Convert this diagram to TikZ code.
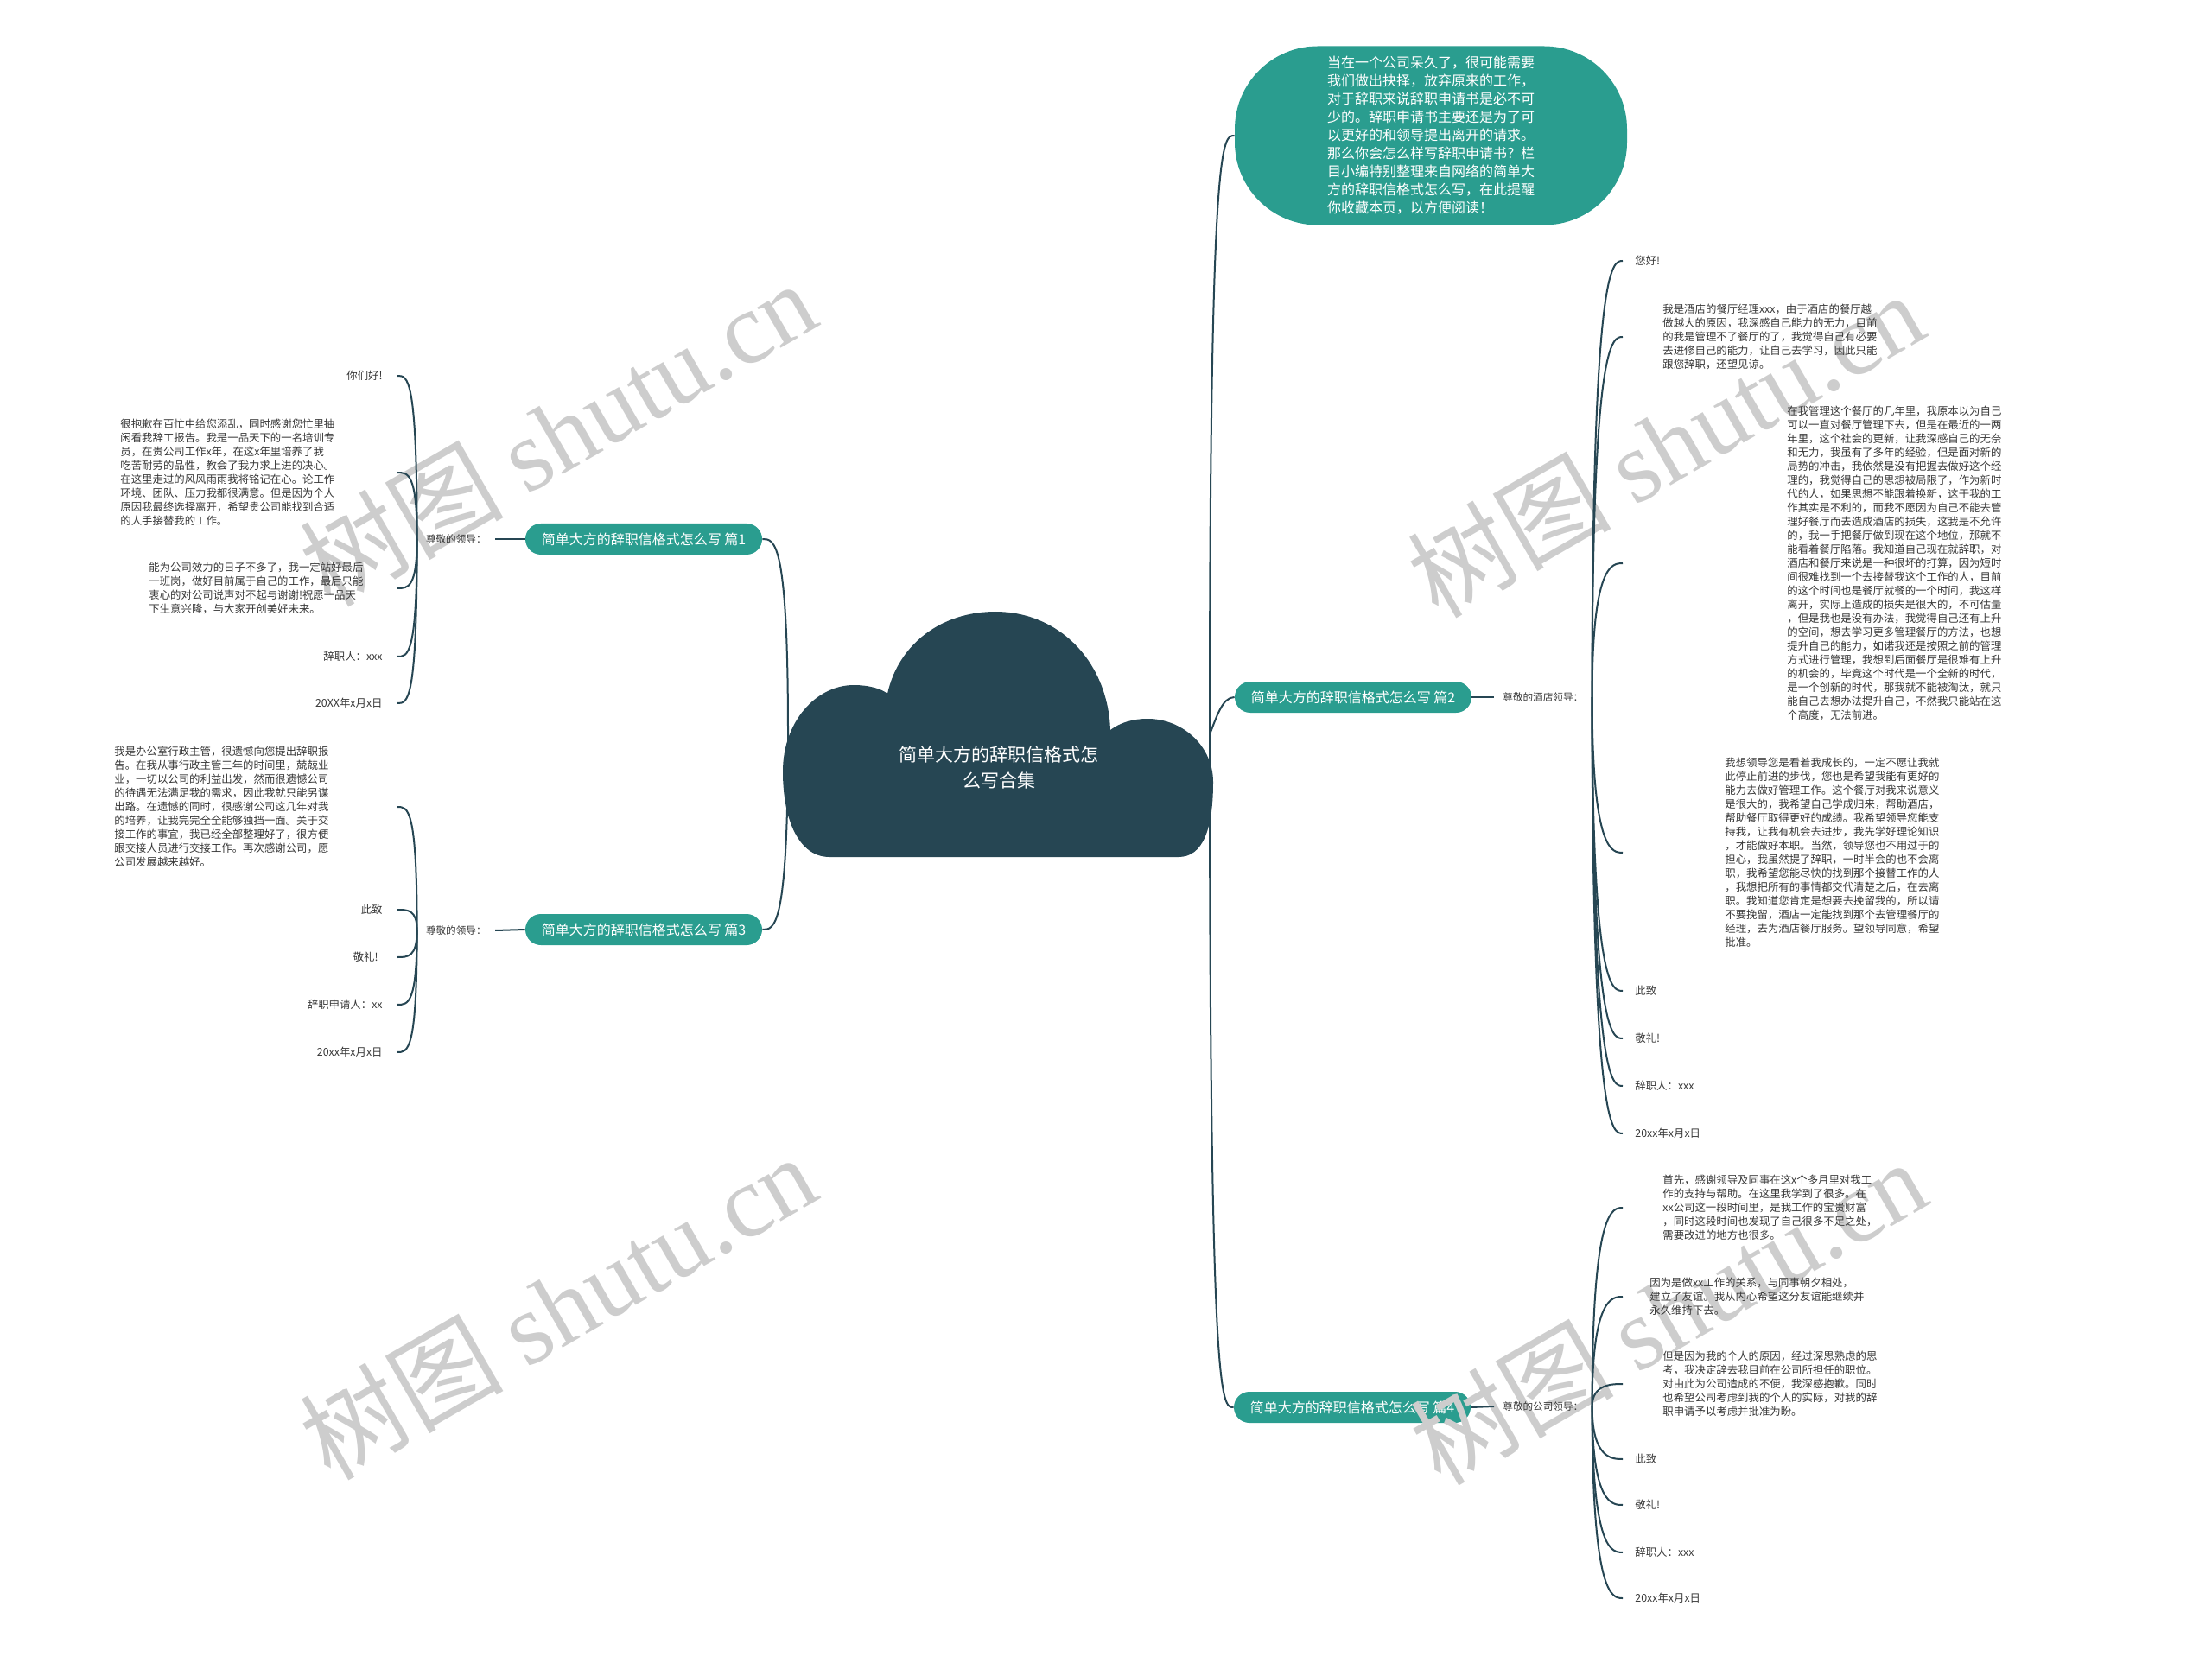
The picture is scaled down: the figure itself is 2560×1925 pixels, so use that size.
\documentclass[tikz,border=0pt]{standalone}
\usepackage{fontspec}
\setmainfont{Noto Sans CJK SC}
\newfontfamily\wmfont{Liberation Serif}
\usetikzlibrary{positioning,calc}
\definecolor{cloudblue}{RGB}{38,70,83}
\definecolor{topicgreen}{RGB}{42,157,143}
\definecolor{leafgray}{RGB}{55,55,55}
\definecolor{wmgray}{RGB}{205,205,205}

\begin{document}
\begin{tikzpicture}[
  x=0.5pt,y=-0.5pt,
  root/.style={text=white,align=center,inner sep=0pt,font=\fontsize{10.5}{15}\selectfont},
  topic/.style={fill=topicgreen,text=white,rounded corners=9pt,minimum width=137pt,
                minimum height=18pt,inner sep=0pt,font=\fontsize{8}{10}\selectfont},
  intro/.style={fill=topicgreen,text=white,rounded corners=48pt,minimum width=227pt,
                minimum height=103.5pt,align=left,inner sep=0pt,font=\fontsize{8}{10.5}\selectfont},
  lbl/.style={text=leafgray,inner xsep=5pt,inner ysep=1pt,font=\fontsize{5.8}{7}\selectfont},
  leaf/.style={text=leafgray,inner sep=0pt,align=left,font=\fontsize{6.2}{8}\selectfont},
  link/.style={draw=cloudblue,line width=1pt},
  wm/.style={text=wmgray,rotate=30,inner sep=0pt,font=\fontsize{59}{59}\selectfont},
]
\useasboundingbox (0,0) rectangle (2560,1925);

% topics
\node[topic] (p1) at (745,624) {简单大方的辞职信格式怎么写 篇1};
\node[topic] (p3) at (745,1076) {简单大方的辞职信格式怎么写 篇3};
\node[topic] (p2) at (1566,807) {简单大方的辞职信格式怎么写 篇2};
\node[topic] (p4) at (1565,1629) {简单大方的辞职信格式怎么写 篇4};
\node[intro] (intro) at (1656,157) {当在一个公司呆久了，很可能需要\\
  我们做出抉择，放弃原来的工作，\\
  对于辞职来说辞职申请书是必不可\\
  少的。辞职申请书主要还是为了可\\
  以更好的和领导提出离开的请求。\\
  那么你会怎么样写辞职申请书？栏\\
  目小编特别整理来自网络的简单大\\
  方的辞职信格式怎么写，在此提醒\\
  你收藏本页，以方便阅读！};

% watermarks
\node[wm] (wm1) at (645,501) {树图 {\wmfont shutu.cn}};
\node[wm] (wm2) at (645,1512) {树图 {\wmfont shutu.cn}};
\node[wm] (wm3) at (1927,514) {树图 {\wmfont shutu.cn}};
\node[wm] (wm4) at (1930,1518) {树图 {\wmfont shutu.cn}};

\node[lbl,anchor=east] (g1) at (573,624) {尊敬的领导：};
\node[lbl,anchor=east] (g3) at (573,1077) {尊敬的领导：};
\node[lbl,anchor=west] (g2) at (1729,807) {尊敬的酒店领导：};
\node[lbl,anchor=west] (g4) at (1729,1628) {尊敬的公司领导：};

% left side, 篇1
\node[leaf,anchor=east] (p1a) at (443,435) {你们好!};
\node[leaf,anchor=west] (p1b) at (139,547) {很抱歉在百忙中给您添乱，同时感谢您忙里抽\\
  闲看我辞工报告。我是一品天下的一名培训专\\
  员，在贵公司工作x年，在这x年里培养了我\\
  吃苦耐劳的品性，教会了我力求上进的决心。\\
  在这里走过的风风雨雨我将铭记在心。论工作\\
  环境、团队、压力我都很满意。但是因为个人\\
  原因我最终选择离开，希望贵公司能找到合适\\
  的人手接替我的工作。};
\node[leaf,anchor=west] (p1c) at (172,681) {能为公司效力的日子不多了，我一定站好最后\\
  一班岗，做好目前属于自己的工作，最后只能\\
  衷心的对公司说声对不起与谢谢!祝愿一品天\\
  下生意兴隆，与大家开创美好未来。};
\node[leaf,anchor=east] (p1d) at (443,760) {辞职人：xxx};
\node[leaf,anchor=east] (p1e) at (443,814) {20XX年x月x日};

% left side, 篇3
\node[leaf,anchor=west] (p3a) at (132,934) {我是办公室行政主管，很遗憾向您提出辞职报\\
  告。在我从事行政主管三年的时间里，兢兢业\\
  业，一切以公司的利益出发，然而很遗憾公司\\
  的待遇无法满足我的需求，因此我就只能另谋\\
  出路。在遗憾的同时，很感谢公司这几年对我\\
  的培养，让我完完全全能够独挡一面。关于交\\
  接工作的事宜，我已经全部整理好了，很方便\\
  跟交接人员进行交接工作。再次感谢公司，愿\\
  公司发展越来越好。};
\node[leaf,anchor=east] (p3b) at (443,1053) {此致};
\node[leaf,anchor=east] (p3c) at (438,1108) {敬礼!};
\node[leaf,anchor=east] (p3d) at (443,1163) {辞职申请人：xx};
\node[leaf,anchor=east] (p3e) at (443,1218) {20xx年x月x日};

% right side, 篇2
\node[leaf,anchor=west] (p2a) at (1892,302) {您好!};
\node[leaf,anchor=west] (p2b) at (1924,390) {我是酒店的餐厅经理xxx，由于酒店的餐厅越\\
  做越大的原因，我深感自己能力的无力，目前\\
  的我是管理不了餐厅的了，我觉得自己有必要\\
  去进修自己的能力，让自己去学习，因此只能\\
  跟您辞职，还望见谅。};
\node[leaf,anchor=west] (p2c) at (2068,652) {在我管理这个餐厅的几年里，我原本以为自己\\
  可以一直对餐厅管理下去，但是在最近的一两\\
  年里，这个社会的更新，让我深感自己的无奈\\
  和无力，我虽有了多年的经验，但是面对新的\\
  局势的冲击，我依然是没有把握去做好这个经\\
  理的，我觉得自己的思想被局限了，作为新时\\
  代的人，如果思想不能跟着换新，这于我的工\\
  作其实是不利的，而我不愿因为自己不能去管\\
  理好餐厅而去造成酒店的损失，这我是不允许\\
  的，我一手把餐厅做到现在这个地位，那就不\\
  能看着餐厅陷落。我知道自己现在就辞职，对\\
  酒店和餐厅来说是一种很坏的打算，因为短时\\
  间很难找到一个去接替我这个工作的人，目前\\
  的这个时间也是餐厅就餐的一个时间，我这样\\
  离开，实际上造成的损失是很大的，不可估量\\
  ，但是我也是没有办法，我觉得自己还有上升\\
  的空间，想去学习更多管理餐厅的方法，也想\\
  提升自己的能力，如诺我还是按照之前的管理\\
  方式进行管理，我想到后面餐厅是很难有上升\\
  的机会的，毕竟这个时代是一个全新的时代，\\
  是一个创新的时代，那我就不能被淘汰，就只\\
  能自己去想办法提升自己，不然我只能站在这\\
  个高度，无法前进。};
\node[leaf,anchor=west] (p2d) at (1996,987) {我想领导您是看着我成长的，一定不愿让我就\\
  此停止前进的步伐，您也是希望我能有更好的\\
  能力去做好管理工作。这个餐厅对我来说意义\\
  是很大的，我希望自己学成归来，帮助酒店，\\
  帮助餐厅取得更好的成绩。我希望领导您能支\\
  持我，让我有机会去进步，我先学好理论知识\\
  ，才能做好本职。当然，领导您也不用过于的\\
  担心，我虽然提了辞职，一时半会的也不会离\\
  职，我希望您能尽快的找到那个接替工作的人\\
  ，我想把所有的事情都交代清楚之后，在去离\\
  职。我知道您肯定是想要去挽留我的，所以请\\
  不要挽留，酒店一定能找到那个去管理餐厅的\\
  经理，去为酒店餐厅服务。望领导同意，希望\\
  批准。};
\node[leaf,anchor=west] (p2e) at (1892,1147) {此致};
\node[leaf,anchor=west] (p2f) at (1892,1202) {敬礼!};
\node[leaf,anchor=west] (p2g) at (1892,1257) {辞职人：xxx};
\node[leaf,anchor=west] (p2h) at (1892,1312) {20xx年x月x日};

% right side, 篇4
\node[leaf,anchor=west] (p4a) at (1924,1398) {首先，感谢领导及同事在这x个多月里对我工\\
  作的支持与帮助。在这里我学到了很多。在\\
  xx公司这一段时间里，是我工作的宝贵财富\\
  ，同时这段时间也发现了自己很多不足之处，\\
  需要改进的地方也很多。};
\node[leaf,anchor=west] (p4b) at (1909,1501) {因为是做xx工作的关系，与同事朝夕相处，\\
  建立了友谊。我从内心希望这分友谊能继续并\\
  永久维持下去。};
\node[leaf,anchor=west] (p4c) at (1924,1602) {但是因为我的个人的原因，经过深思熟虑的思\\
  考，我决定辞去我目前在公司所担任的职位。\\
  对由此为公司造成的不便，我深感抱歉。同时\\
  也希望公司考虑到我的个人的实际，对我的辞\\
  职申请予以考虑并批准为盼。};
\node[leaf,anchor=west] (p4d) at (1892,1689) {此致};
\node[leaf,anchor=west] (p4e) at (1892,1742) {敬礼!};
\node[leaf,anchor=west] (p4f) at (1892,1797) {辞职人：xxx};
\node[leaf,anchor=west] (p4g) at (1892,1850) {20xx年x月x日};

% connectors
\coordinate (rl) at (912,850);
\coordinate (rr) at (1400,850);
\coordinate (e1) at (460,0);
\coordinate (k1) at (472,0);
\coordinate (e2) at (1878,0);
\coordinate (k2) at (1866,0);

\draw[link] (rl) .. controls (rl |- p1.east) and ($(p1.east)+(14,0)$) .. (p1.east);
\draw[link] (rl) .. controls (rl |- p3.east) and ($(p3.east)+(14,0)$) .. (p3.east);
\draw[link] (rr) .. controls (rr |- intro.west) and ($(intro.west)+(-14,0)$) .. (intro.west);
\draw[link] (rr) .. controls ($(rr)+(8,-20)$) and ($(p2.west)+(-14,0)$) .. (p2.west);
\draw[link] (rr) .. controls (rr |- p4.west) and ($(p4.west)+(-14,0)$) .. (p4.west);

\draw[link] (p1.west) -- (g1.east);
\draw[link] (p3.west) -- (g3.east);
\draw[link] (p2.east) -- (g2.west);
\draw[link] (p4.east) -- (g4.west);

\foreach \n in {p1a,p1b,p1c,p1d,p1e}
  \draw[link] (g1.west) .. controls (g1.west |- \n) and (\n -| k1) .. (\n -| e1);
\foreach \n in {p3a,p3b,p3c,p3d,p3e}
  \draw[link] (g3.west) .. controls (g3.west |- \n) and (\n -| k1) .. (\n -| e1);
\foreach \n in {p2a,p2b,p2c,p2d,p2e,p2f,p2g,p2h}
  \draw[link] (g2.east) .. controls (g2.east |- \n) and (\n -| k2) .. (\n -| e2);
\foreach \n in {p4a,p4b,p4c,p4d,p4e,p4f,p4g}
  \draw[link] (g4.east) .. controls (g4.east |- \n) and (\n -| k2) .. (\n -| e2);

% cloud
\path[fill=cloudblue] (960,992)
  .. controls (925,992) and (906,950) .. (906,893)
  .. controls (906,835) and (945,793) .. (988,793)
  .. controls (1005,793) and (1020,797) .. (1027,803)
  .. controls (1040,745) and (1090,708) .. (1152,708)
  .. controls (1225,708) and (1282,765) .. (1285,845)
  .. controls (1297,836) and (1312,832) .. (1328,832)
  .. controls (1370,832) and (1404,865) .. (1404,905)
  .. controls (1404,960) and (1392,992) .. (1364,992)
  -- cycle;
\node[root] (root) at (1156,888) {简单大方的辞职信格式怎\\么写合集};
\end{tikzpicture}
\end{document}
